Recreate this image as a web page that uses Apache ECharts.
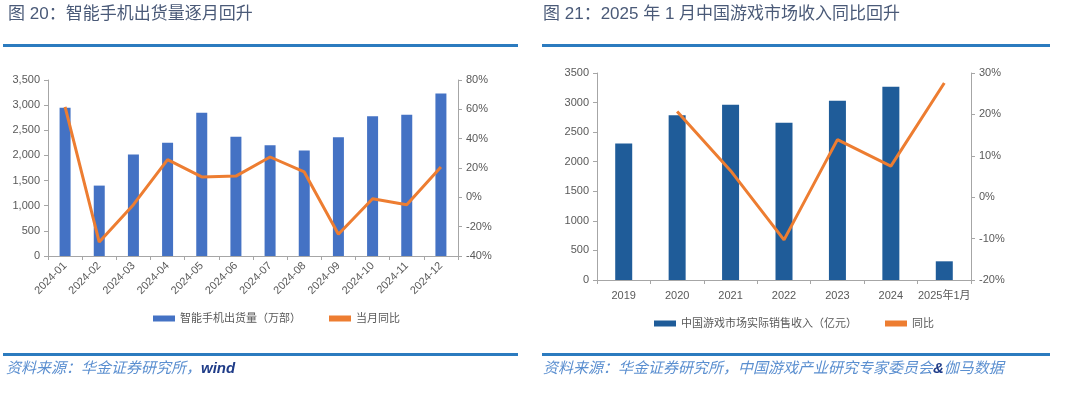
<!DOCTYPE html>
<html><head><meta charset="utf-8">
<script src="https://cdn.jsdelivr.net/npm/echarts@6/dist/echarts.min.js"></script>
<style>html,body{margin:0;padding:0;background:#fff}#c{width:1080px;height:393px}</style>
</head><body><div id="c"></div>
<script>
const months = ['2024-01','2024-02','2024-03','2024-04','2024-05','2024-06','2024-07','2024-08','2024-09','2024-10','2024-11','2024-12'];
const phoneShip = [2950,1400,2020,2250,2850,2370,2200,2100,2360,2780,2810,3230];
const phoneYoY = [61.6,-30.5,-5,25.7,13.9,14.5,27.5,17.3,-25.2,-1,-5,20.7];
const years = ['2019','2020','2021','2022','2023','2024','2025年1月'];
const gameRev = [2308,2786,2965,2659,3030,3268,316];
const gameYoY = [null,20.7,6.4,-10.3,13.9,7.5,27.6];

const FONT = '"Liberation Sans","Noto Sans CJK SC",sans-serif';
const axisGray = '#595959';
const lineGray = '#a6a6a6';
const chart = echarts.init(document.getElementById('c'));

function yAxisBase(extra){
  return Object.assign({
    axisLine:{show:true,lineStyle:{color:lineGray}},
    axisTick:{show:true,length:4,lineStyle:{color:lineGray}},
    splitLine:{show:false},
    axisLabel:{color:axisGray,fontSize:11,fontFamily:FONT}
  },extra);
}
const srcRich = {
  a:{fill:'#5b8fd0',font:'italic 15px '+FONT},
  b:{fill:'#1f3c88',font:'italic bold 15px '+FONT}
};

chart.setOption({
  animation:false,
  textStyle:{fontFamily:FONT},
  graphic:[
    {type:'text',left:8,top:6,style:{text:'图 20：智能手机出货量逐月回升',fill:'#4a5a78',font:'17px '+FONT}},
    {type:'text',left:543,top:6,style:{text:'图 21：2025 年 1 月中国游戏市场收入同比回升',fill:'#4a5a78',font:'17px '+FONT}},
    {type:'rect',shape:{x:3,y:44,width:515,height:3},style:{fill:'#2b7bbf'}},
    {type:'rect',shape:{x:542,y:44,width:508,height:3},style:{fill:'#2b7bbf'}},
    {type:'rect',shape:{x:3,y:353,width:515,height:3},style:{fill:'#2b7bbf'}},
    {type:'rect',shape:{x:542,y:353,width:508,height:3},style:{fill:'#2b7bbf'}},
    {type:'text',left:6,top:361,style:{text:'{a|资料来源：华金证券研究所，}{b|wind}',rich:srcRich}},
    {type:'text',left:543,top:361,style:{text:'{a|资料来源：华金证券研究所，中国游戏产业研究专家委员会}{b|&}{a|伽马数据}',rich:srcRich}}
  ],
  legend:[
    {left:148,top:308,itemWidth:22,itemHeight:6,itemGap:28,textStyle:{color:axisGray,fontSize:11},
     data:[{name:'智能手机出货量（万部）',icon:'rect'},{name:'当月同比',icon:'rect'}]},
    {left:649,top:313,itemWidth:22,itemHeight:6,itemGap:28,textStyle:{color:axisGray,fontSize:11},
     data:[{name:'中国游戏市场实际销售收入（亿元）',icon:'rect'},{name:'同比',icon:'rect'}]}
  ],
  grid:[
    {left:48,top:80,width:410,height:176},
    {left:597,top:73,width:374,height:207}
  ],
  xAxis:[
    {type:'category',gridIndex:0,data:months,
     axisLine:{lineStyle:{color:lineGray}},axisTick:{show:true,length:4,lineStyle:{color:lineGray}},
     axisLabel:{rotate:45,color:axisGray,fontSize:11,margin:8,interval:0}},
    {type:'category',gridIndex:1,data:years,
     axisLine:{lineStyle:{color:lineGray}},axisTick:{show:true,length:4,lineStyle:{color:lineGray}},
     axisLabel:{color:axisGray,fontSize:11,margin:10,interval:0}}
  ],
  yAxis:[
    yAxisBase({type:'value',gridIndex:0,min:0,max:3500,interval:500,
      axisLabel:{color:axisGray,fontSize:11,formatter:v=>v.toLocaleString('en-US')}}),
    yAxisBase({type:'value',gridIndex:0,position:'right',min:-40,max:80,interval:20,
      axisLabel:{color:axisGray,fontSize:11,formatter:'{value}%'}}),
    yAxisBase({type:'value',gridIndex:1,min:0,max:3500,interval:500,
      axisLabel:{color:axisGray,fontSize:11,formatter:v=>String(v)}}),
    yAxisBase({type:'value',gridIndex:1,position:'right',min:-20,max:30,interval:10,
      axisLabel:{color:axisGray,fontSize:11,formatter:'{value}%'}})
  ],
  series:[
    {name:'智能手机出货量（万部）',type:'bar',xAxisIndex:0,yAxisIndex:0,data:phoneShip,barWidth:11,itemStyle:{color:'#4472c4'}},
    {name:'当月同比',type:'line',xAxisIndex:0,yAxisIndex:1,data:phoneYoY,showSymbol:false,lineStyle:{color:'#ed7d31',width:3},itemStyle:{color:'#ed7d31'}},
    {name:'中国游戏市场实际销售收入（亿元）',type:'bar',xAxisIndex:1,yAxisIndex:2,data:gameRev,barWidth:17,itemStyle:{color:'#1f5c99'}},
    {name:'同比',type:'line',xAxisIndex:1,yAxisIndex:3,data:gameYoY,showSymbol:false,connectNulls:false,lineStyle:{color:'#ed7d31',width:3},itemStyle:{color:'#ed7d31'}}
  ]
});
</script></body></html>
